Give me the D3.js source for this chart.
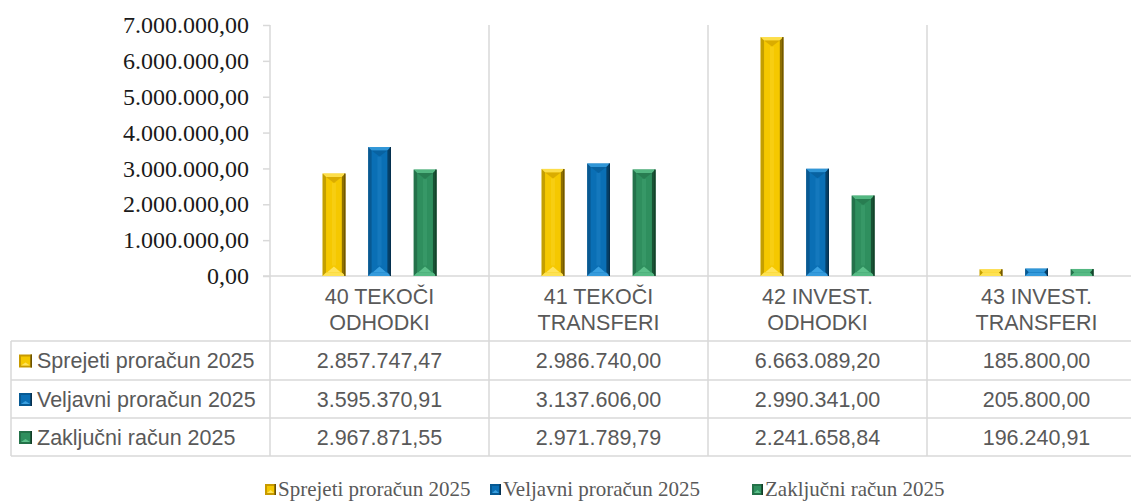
<!DOCTYPE html>
<html>
<head>
<meta charset="utf-8">
<script src="https://cdn.jsdelivr.net/npm/d3@7"></script>
<style>
  html, body { margin: 0; padding: 0; background: #fff; }
  svg { display: block; }
  .ylab { font-family: "Liberation Serif", "Times New Roman", serif; font-size: 24px; fill: #1a1a1a; }
  .tab { font-family: "Liberation Sans", Arial, sans-serif; font-size: 21.5px; fill: #595959; }
  .leg { font-family: "Liberation Serif", "Times New Roman", serif; font-size: 21px; fill: #595959; }
</style>
</head>
<body>
<svg id="chart" width="1131" height="501"></svg>
<script>
const categories = ['40', '41', '42', '43'];
const categoryLines = [
  ['40 TEKOČI', 'ODHODKI'],
  ['41 TEKOČI', 'TRANSFERI'],
  ['42 INVEST.', 'ODHODKI'],
  ['43 INVEST.', 'TRANSFERI']
];
const seriesNames = ['Sprejeti proračun 2025', 'Veljavni proračun 2025', 'Zaključni račun 2025'];
const sprejeti = [2857747.47, 2986740.00, 6663089.20, 185800.00];
const veljavni = [3595370.91, 3137606.00, 2990341.00, 205800.00];
const zakljucni = [2967871.55, 2971789.79, 2241658.84, 196240.91];
const yTicks = [0, 1000000, 2000000, 3000000, 4000000, 5000000, 6000000, 7000000];

const seriesValues = [sprejeti, veljavni, zakljucni];
// base, light, dark per series
const palette = [
  { base: '#f5c800', light: '#ffe45c', mid: '#c89a00', dark: '#6b5200' },
  { base: '#0a6fb5', light: '#3aa0e0', mid: '#075a94', dark: '#06304f' },
  { base: '#2f8f5e', light: '#5cc08a', mid: '#247249', dark: '#123d27' }
];

const loc = d3.formatLocale({ decimal: ',', thousands: '.', grouping: [3], currency: ['', ''] });
const fmt = loc.format(',.2f');

const svg = d3.select('#chart');
const gridColor = '#d9d9d9';

const plotTop = 25, baseY = 276, left = 270, catW = 219;
const rowLines = [276, 341, 380, 418, 456];
const tableLeft = 11;

const x0 = d3.scaleBand().domain(categories).range([left, left + catW * categories.length]);
const x1 = d3.scaleBand().domain(d3.range(seriesNames.length))
  .range([x0.bandwidth() * 0.24, x0.bandwidth() * 0.76]).paddingInner(0.5);
const y = d3.scaleLinear().domain([0, 7000000]).range([baseY, plotTop]);

// grid / table lines
const lines = svg.append('g').attr('stroke', gridColor).attr('stroke-width', 1.5);
categories.forEach(c => {
  lines.append('line').attr('x1', x0(c)).attr('x2', x0(c)).attr('y1', plotTop).attr('y2', rowLines[4]);
});
lines.append('line').attr('x1', left - 7).attr('x2', x0.range()[1]).attr('y1', baseY).attr('y2', baseY);
rowLines.slice(1).forEach(ry => {
  lines.append('line').attr('x1', tableLeft).attr('x2', x0.range()[1]).attr('y1', ry).attr('y2', ry);
});
lines.append('line').attr('x1', tableLeft).attr('x2', tableLeft).attr('y1', rowLines[1]).attr('y2', rowLines[4]);

// y axis
const axisY = d3.axisLeft(y).tickValues(yTicks).tickFormat(fmt).tickSize(7).tickPadding(14);
const ga = svg.append('g').attr('transform', `translate(${left},0)`).call(axisY);
ga.select('.domain').remove();
ga.selectAll('.tick line').attr('stroke', gridColor).attr('stroke-width', 1.5);
ga.selectAll('.tick text').attr('class', 'ylab').attr('font-family', null).attr('font-size', null).attr('fill', null);

// bevelled bar
function bevelBar(g, bx, by, w, h, col) {
  const b = Math.min(3.5, h / 2, w / 2);
  const r = bx + w, bt = by + h;
  g.append('rect').attr('x', bx).attr('y', by).attr('width', w).attr('height', h).attr('fill', col.base);
  g.append('polygon').attr('fill', col.light).attr('opacity', 0.8)
    .attr('points', [[bx, by], [r, by], [r - b, by + b], [bx + b, by + b]].join(' '));
  g.append('polygon').attr('fill', col.dark).attr('opacity', 0.35)
    .attr('points', [[bx, by], [bx + b, by + b], [bx + b, bt - b], [bx, bt]].join(' '));
  g.append('polygon').attr('fill', col.dark).attr('opacity', 0.75)
    .attr('points', [[r, by], [r, bt], [r - b, bt - b], [r - b, by + b]].join(' '));
  g.append('polygon').attr('fill', col.light).attr('opacity', 0.9)
    .attr('points', [[bx, bt], [bx + b, bt - b], [r - b, bt - b], [r, bt]].join(' '));
  if (h > 20) {
    // light triangle at the foot, faint one at the top
    g.append('polygon').attr('fill', col.light)
      .attr('points', [[bx + b + 1, bt - b], [bx + w / 2, bt - b - 6], [r - b - 1, bt - b]].join(' '));
    g.append('polygon').attr('fill', col.mid).attr('opacity', 0.6)
      .attr('points', [[bx + b, by + b], [bx + w / 2, by + b + 6], [r - b, by + b]].join(' '));
    g.append('rect').attr('x', bx + w / 2 - 2).attr('y', by + b + 6).attr('width', 4)
      .attr('height', Math.max(0, h - 2 * b - 13)).attr('fill', col.light).attr('opacity', 0.2);
  }
  g.append('line').attr('x1', r - 0.5).attr('x2', r - 0.5).attr('y1', by).attr('y2', bt)
    .attr('stroke', col.dark).attr('stroke-width', 1.2);
}

// small legend swatch
function swatch(g, sx, sy, s, col) {
  g.append('rect').attr('x', sx).attr('y', sy).attr('width', s).attr('height', s).attr('fill', col.mid);
  g.append('rect').attr('x', sx + 2).attr('y', sy + 2).attr('width', s - 4).attr('height', s - 4).attr('fill', col.base);
  g.append('polygon').attr('fill', col.light)
    .attr('points', [[sx + 2, sy + s - 2], [sx + s / 2, sy + s - 5], [sx + s - 2, sy + s - 2]].join(' '));
  g.append('rect').attr('x', sx + s - 1.5).attr('y', sy).attr('width', 1.5).attr('height', s).attr('fill', col.dark);
}

const bars = svg.append('g');
categories.forEach((c, ci) => {
  seriesValues.forEach((vals, si) => {
    const bx = x0(c) + x1(si);
    const by = y(vals[ci]);
    bevelBar(bars, bx, by, x1.bandwidth(), y(0) - by, palette[si]);
  });
});

// table header: category labels
const th = svg.append('g').attr('class', 'tab').attr('text-anchor', 'middle');
categories.forEach((c, ci) => {
  categoryLines[ci].forEach((t, li) => {
    th.append('text').attr('x', x0(c) + x0.bandwidth() / 2).attr('y', 296 + li * 26.5)
      .attr('dy', '0.35em').text(t);
  });
});

// table rows
seriesNames.forEach((name, si) => {
  const cy = (rowLines[si + 1] + rowLines[si + 2]) / 2;
  swatch(svg.append('g'), 19, cy - 6, 13, palette[si]);
  svg.append('text').attr('class', 'tab').attr('x', 37).attr('y', cy).attr('dy', '0.35em').text(name);
  categories.forEach((c, ci) => {
    svg.append('text').attr('class', 'tab').attr('text-anchor', 'middle')
      .attr('x', x0(c) + x0.bandwidth() / 2).attr('y', cy).attr('dy', '0.35em')
      .text(fmt(seriesValues[si][ci]));
  });
});

// bottom legend
const legX = [265, 490, 752];
seriesNames.forEach((name, si) => {
  const g = svg.append('g').attr('transform', `translate(${legX[si]},489)`);
  swatch(g, 0, -5, 11, palette[si]);
  g.append('text').attr('class', 'leg').attr('x', 13).attr('y', 0).attr('dy', '0.35em').text(name);
});
</script>
</body>
</html>
